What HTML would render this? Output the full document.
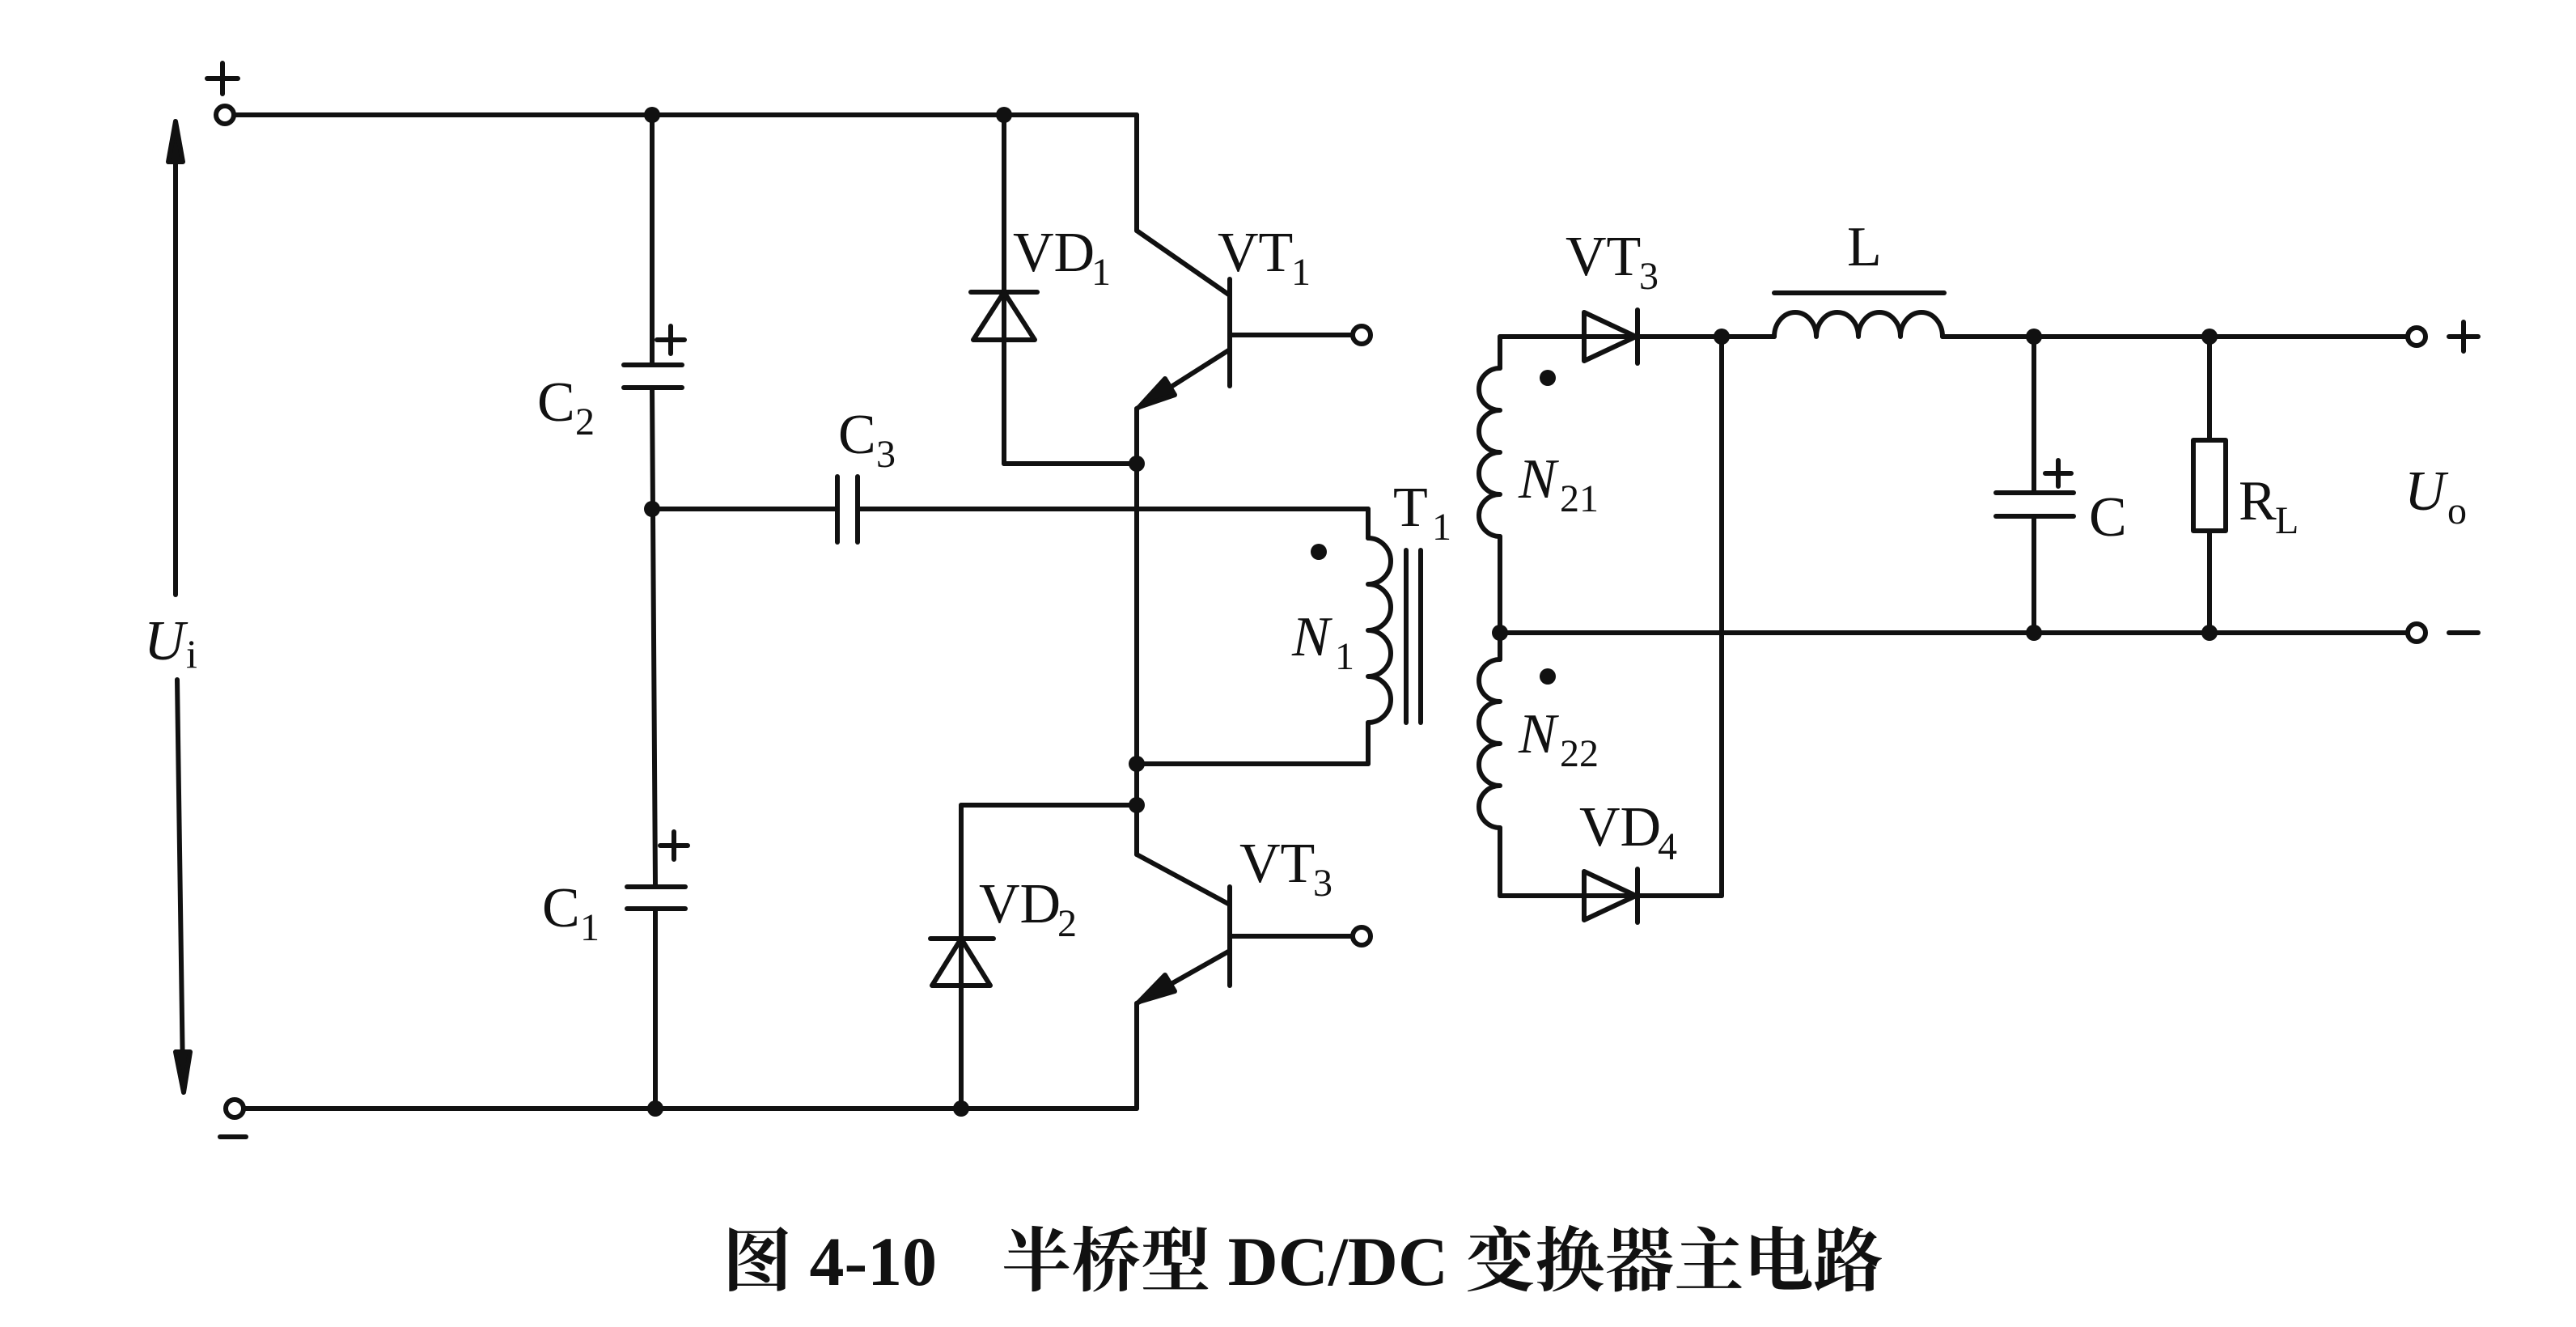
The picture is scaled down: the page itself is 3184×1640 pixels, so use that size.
<!DOCTYPE html>
<html><head><meta charset="utf-8"><style>
html,body{margin:0;padding:0;background:#fff;}
svg{display:block;}
text{font-family:"Liberation Serif","Noto Serif CJK SC",serif;fill:#111;}
</style></head><body>
<svg width="3184" height="1640" viewBox="0 0 3184 1640" xmlns="http://www.w3.org/2000/svg">
<g stroke="#111" stroke-width="6" fill="none" stroke-linecap="round" stroke-linejoin="round">
<line x1="290" y1="142" x2="1405" y2="142"/>
<line x1="300" y1="1370" x2="1405" y2="1370"/>
<line x1="217" y1="165" x2="217" y2="735"/>
<line x1="219" y1="840" x2="226" y2="1330"/>
<path d="M217 150 L208 200 L226 200 Z" fill="#111"/>
<path d="M227 1350 L217 1300 L235 1300 Z" fill="#111"/>
<line x1="806" y1="142" x2="806" y2="451"/>
<line x1="771" y1="451" x2="843" y2="451"/>
<line x1="771" y1="479" x2="843" y2="479"/>
<line x1="806" y1="479" x2="810" y2="1096"/>
<line x1="775" y1="1096" x2="847" y2="1096"/>
<line x1="775" y1="1123" x2="847" y2="1123"/>
<line x1="810" y1="1123" x2="810" y2="1370"/>
<line x1="806" y1="629" x2="1035" y2="629"/>
<line x1="1035" y1="589" x2="1035" y2="670"/>
<line x1="1060" y1="589" x2="1060" y2="670"/>
<line x1="1060" y1="629" x2="1691" y2="629"/>
<line x1="1691" y1="629" x2="1691" y2="665"/>
<path d="M1691 665 a28 28.5 0 0 1 0 57 a28 28.5 0 0 1 0 57 a28 28.5 0 0 1 0 57 a28 28.5 0 0 1 0 57"/>
<line x1="1691" y1="893" x2="1691" y2="944"/>
<line x1="1691" y1="944" x2="1405" y2="944"/>
<line x1="1738" y1="680" x2="1738" y2="893"/>
<line x1="1756" y1="680" x2="1756" y2="893"/>
<line x1="1405" y1="573" x2="1405" y2="1000"/>
<line x1="1405" y1="142" x2="1405" y2="285"/>
<line x1="1405" y1="285" x2="1520" y2="365"/>
<line x1="1520" y1="345" x2="1520" y2="477"/>
<line x1="1520" y1="414" x2="1672" y2="414"/>
<line x1="1520" y1="432" x2="1405" y2="505"/>
<line x1="1405" y1="505" x2="1405" y2="573"/>
<path d="M1408 503 L1440 468 L1452 488 Z" fill="#111"/>
<line x1="1241" y1="142" x2="1241" y2="573"/>
<line x1="1241" y1="573" x2="1405" y2="573"/>
<line x1="1200" y1="361" x2="1282" y2="361"/>
<path d="M1241 361 L1203 420 L1279 420 Z"/>
<line x1="1405" y1="1000" x2="1405" y2="1056"/>
<line x1="1405" y1="1056" x2="1520" y2="1118"/>
<line x1="1520" y1="1096" x2="1520" y2="1218"/>
<line x1="1520" y1="1157" x2="1672" y2="1157"/>
<line x1="1520" y1="1175" x2="1405" y2="1240"/>
<line x1="1405" y1="1240" x2="1405" y2="1370"/>
<path d="M1408 1238 L1440 1205 L1452 1225 Z" fill="#111"/>
<line x1="1405" y1="995" x2="1188" y2="995"/>
<line x1="1188" y1="995" x2="1188" y2="1370"/>
<line x1="1150" y1="1160" x2="1228" y2="1160"/>
<path d="M1188 1160 L1152 1218 L1224 1218 Z"/>
<line x1="1854" y1="416" x2="1854" y2="455"/>
<path d="M1854 455 a26 26 0 0 0 0 52 a26 26 0 0 0 0 52 a26 26 0 0 0 0 52 a26 26 0 0 0 0 52"/>
<line x1="1854" y1="663" x2="1854" y2="815"/>
<path d="M1854 815 a26 26 0 0 0 0 52 a26 26 0 0 0 0 52 a26 26 0 0 0 0 52 a26 26 0 0 0 0 52"/>
<line x1="1854" y1="1023" x2="1854" y2="1107"/>
<line x1="1854" y1="416" x2="2193" y2="416"/>
<path d="M1958 386 L1958 446 L2022 416 Z"/>
<line x1="2024" y1="383" x2="2024" y2="449"/>
<path d="M2193 416 a26 30 0 0 1 52 0 a26 30 0 0 1 52 0 a26 30 0 0 1 52 0 a26 30 0 0 1 52 0"/>
<line x1="2193" y1="362" x2="2403" y2="362"/>
<line x1="2401" y1="416" x2="2975" y2="416"/>
<line x1="1854" y1="782" x2="2975" y2="782"/>
<line x1="2128" y1="416" x2="2128" y2="1107"/>
<line x1="1854" y1="1107" x2="2128" y2="1107"/>
<path d="M1958 1077 L1958 1137 L2022 1107 Z"/>
<line x1="2024" y1="1074" x2="2024" y2="1140"/>
<line x1="2514" y1="416" x2="2514" y2="609"/>
<line x1="2467" y1="609" x2="2563" y2="609"/>
<line x1="2467" y1="638" x2="2563" y2="638"/>
<line x1="2514" y1="638" x2="2514" y2="782"/>
<line x1="2731" y1="416" x2="2731" y2="544"/>
<rect x="2711" y="544" width="40" height="112"/>
<line x1="2731" y1="656" x2="2731" y2="782"/>
<circle cx="278" cy="142" r="11" fill="#fff"/>
<circle cx="290" cy="1370" r="11" fill="#fff"/>
<circle cx="1683" cy="414" r="11" fill="#fff"/>
<circle cx="1683" cy="1157" r="11" fill="#fff"/>
<circle cx="2987" cy="416" r="11" fill="#fff"/>
<circle cx="2987" cy="782" r="11" fill="#fff"/>
<path d="M256 97 h38 M275 78 v38"/>
<path d="M272 1405 h32" />
<path d="M812 420 h34 M829 403 v34"/>
<path d="M816 1045 h34 M833 1028 v34"/>
<path d="M2528 585 h32 M2544 569 v32"/>
<path d="M3027 416 h36 M3045 398 v36"/>
<path d="M3027 782 h36"/>
</g>
<g fill="#111">
<circle cx="806" cy="142" r="10"/><circle cx="1241" cy="142" r="10"/>
<circle cx="810" cy="1370" r="10"/><circle cx="1188" cy="1370" r="10"/>
<circle cx="806" cy="629" r="10"/>
<circle cx="1405" cy="573" r="10"/><circle cx="1405" cy="944" r="10"/><circle cx="1405" cy="995" r="10"/>
<circle cx="1630" cy="682" r="10"/>
<circle cx="1913" cy="467" r="10"/><circle cx="1913" cy="836" r="10"/>
<circle cx="1854" cy="782" r="10"/>
<circle cx="2128" cy="416" r="10"/>
<circle cx="2514" cy="416" r="10"/><circle cx="2731" cy="416" r="10"/>
<circle cx="2514" cy="782" r="10"/><circle cx="2731" cy="782" r="10"/>
</g>
<g font-size="70" font-family="Liberation Serif, serif">
<text x="178" y="815" font-style="italic">U</text><text x="230" y="825" font-size="50">i</text>
<text x="664" y="520">C</text><text x="711" y="537" font-size="48">2</text>
<text x="670" y="1145">C</text><text x="717" y="1162" font-size="48">1</text>
<text x="1036" y="560">C</text><text x="1083" y="577" font-size="48">3</text>
<text x="1252" y="335">VD</text><text x="1349" y="352" font-size="48">1</text>
<text x="1505" y="335">VT</text><text x="1596" y="352" font-size="48">1</text>
<text x="1532" y="1090">VT</text><text x="1623" y="1107" font-size="48">3</text>
<text x="1210" y="1140">VD</text><text x="1307" y="1157" font-size="48">2</text>
<text x="1722" y="650">T</text><text x="1770" y="667" font-size="48">1</text>
<text x="1597" y="810" font-style="italic">N</text><text x="1650" y="827" font-size="48">1</text>
<text x="1877" y="615" font-style="italic">N</text><text x="1928" y="632" font-size="48">21</text>
<text x="1877" y="930" font-style="italic">N</text><text x="1928" y="947" font-size="48">22</text>
<text x="1935" y="340">VT</text><text x="2026" y="357" font-size="48">3</text>
<text x="1952" y="1045">VD</text><text x="2049" y="1062" font-size="48">4</text>
<text x="2283" y="328">L</text>
<text x="2582" y="662">C</text>
<text x="2767" y="642">R</text><text x="2812" y="659" font-size="48">L</text>
<text x="2972" y="630" font-style="italic">U</text><text x="3025" y="647" font-size="48">o</text>
</g>
<text x="893" y="1588" font-size="86" font-weight="bold">图 4-10<tspan dx="80">半桥型 DC/DC 变换器主电路</tspan></text>
</svg>
</body></html>
